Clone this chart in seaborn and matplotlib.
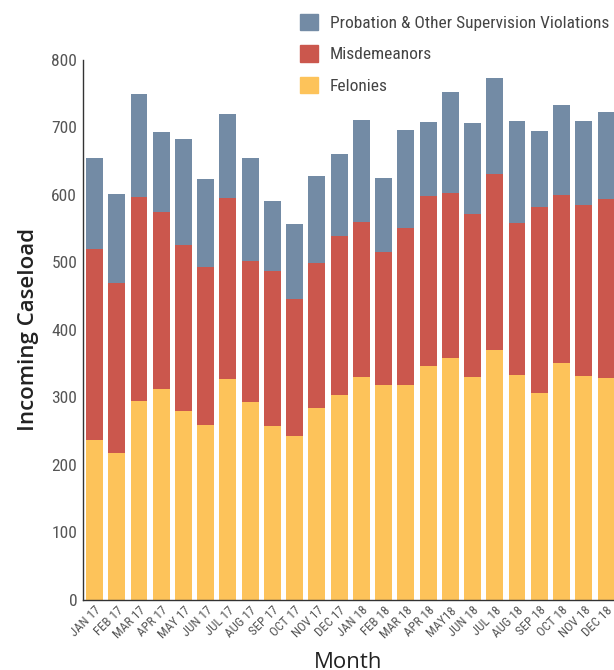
import numpy as np
import matplotlib
matplotlib.use("Agg")
import matplotlib.pyplot as plt
from matplotlib.patches import Patch
from matplotlib import font_manager
import seaborn as sns

months = ["JAN 17", "FEB 17", "MAR 17", "APR 17", "MAY 17", "JUN 17",
          "JUL 17", "AUG 17", "SEP 17", "OCT 17", "NOV 17", "DEC 17",
          "JAN 18", "FEB 18", "MAR 18", "APR 18", "MAY18", "JUN 18",
          "JUL 18", "AUG 18", "SEP 18", "OCT 18", "NOV 18", "DEC 18"]

felonies = np.array([237, 217, 294, 312, 280, 259, 327, 293, 257, 243, 284, 303,
                     330, 318, 318, 346, 358, 330, 370, 333, 306, 351, 332, 328])
misdemeanors = np.array([283, 252, 303, 262, 245, 234, 269, 209, 230, 203, 215, 236,
                         230, 197, 233, 252, 245, 242, 261, 225, 276, 249, 253, 266])
probation = np.array([135, 132, 152, 119, 158, 130, 124, 153, 104, 111, 129, 122,
                      151, 110, 145, 110, 149, 134, 142, 151, 113, 133, 124, 129])

c_prob = "#738BA5"
c_misd = "#CB574D"
c_fel = "#FDC35A"

sns.set_style("white")

installed = {f.name for f in font_manager.fontManager.ttflist}
cond = [f for f in ["Roboto Condensed", "Liberation Sans Narrow", "Roboto"] if f in installed]
cond_font = cond[0] if cond else "DejaVu Sans"
label_font = "Open Sans" if "Open Sans" in installed else "DejaVu Sans"
plt.rcParams["font.family"] = [cond_font, "DejaVu Sans"]

fig = plt.figure(figsize=(6.14, 6.70), dpi=100)
ax = fig.add_axes([0.1347, 0.1048, 0.8653, 0.8059])

top = felonies + misdemeanors + probation
mid = felonies + misdemeanors

# stacked bars: draw totals first, then the lower segments over them
sns.barplot(x=months, y=top, color=c_prob, saturation=1, width=0.76, linewidth=0, ax=ax)
sns.barplot(x=months, y=mid, color=c_misd, saturation=1, width=0.76, linewidth=0, ax=ax)
sns.barplot(x=months, y=felonies, color=c_fel, saturation=1, width=0.76, linewidth=0, ax=ax)

ax.set_ylim(0, 800)
ax.set_xlim(-0.53, 23.36)
ax.set_yticks(range(0, 801, 100))
ax.set_axisbelow(True)

for s in ["top", "right"]:
    ax.spines[s].set_visible(False)
ax.spines["left"].set_color("#333333")
ax.spines["left"].set_linewidth(1.0)
ax.spines["bottom"].set_color("#333333")
ax.spines["bottom"].set_linewidth(1.0)

ax.tick_params(axis="y", direction="in", length=10, width=1, color="#333333",
               labelsize=12.5, labelcolor="#555555", pad=4)
ax.set_xticks(np.arange(len(months)))
ax.set_xticklabels(months, rotation=45, ha="right", rotation_mode="anchor",
                   fontsize=9.3, color="#555555")
ax.tick_params(axis="x", length=0, pad=3)

ax.set_ylabel("Incoming Caseload", fontsize=16, color="#222222",
              family=label_font, fontweight="semibold", labelpad=9)
ax.set_xlabel("Month", fontsize=16, color="#222222", family=label_font,
              fontweight="medium", labelpad=8)

handles = [Patch(color=c_prob, label="Probation & Other Supervision Violations"),
           Patch(color=c_misd, label="Misdemeanors"),
           Patch(color=c_fel, label="Felonies")]
fig.legend(handles=handles, loc="upper left", bbox_to_anchor=(0.478, 0.99),
           frameon=False, fontsize=12.5, labelcolor="#444444",
           handlelength=1.0, handleheight=1.1, handletextpad=0.7,
           labelspacing=0.82, borderaxespad=0)

fig.savefig("out.png", dpi=100)
